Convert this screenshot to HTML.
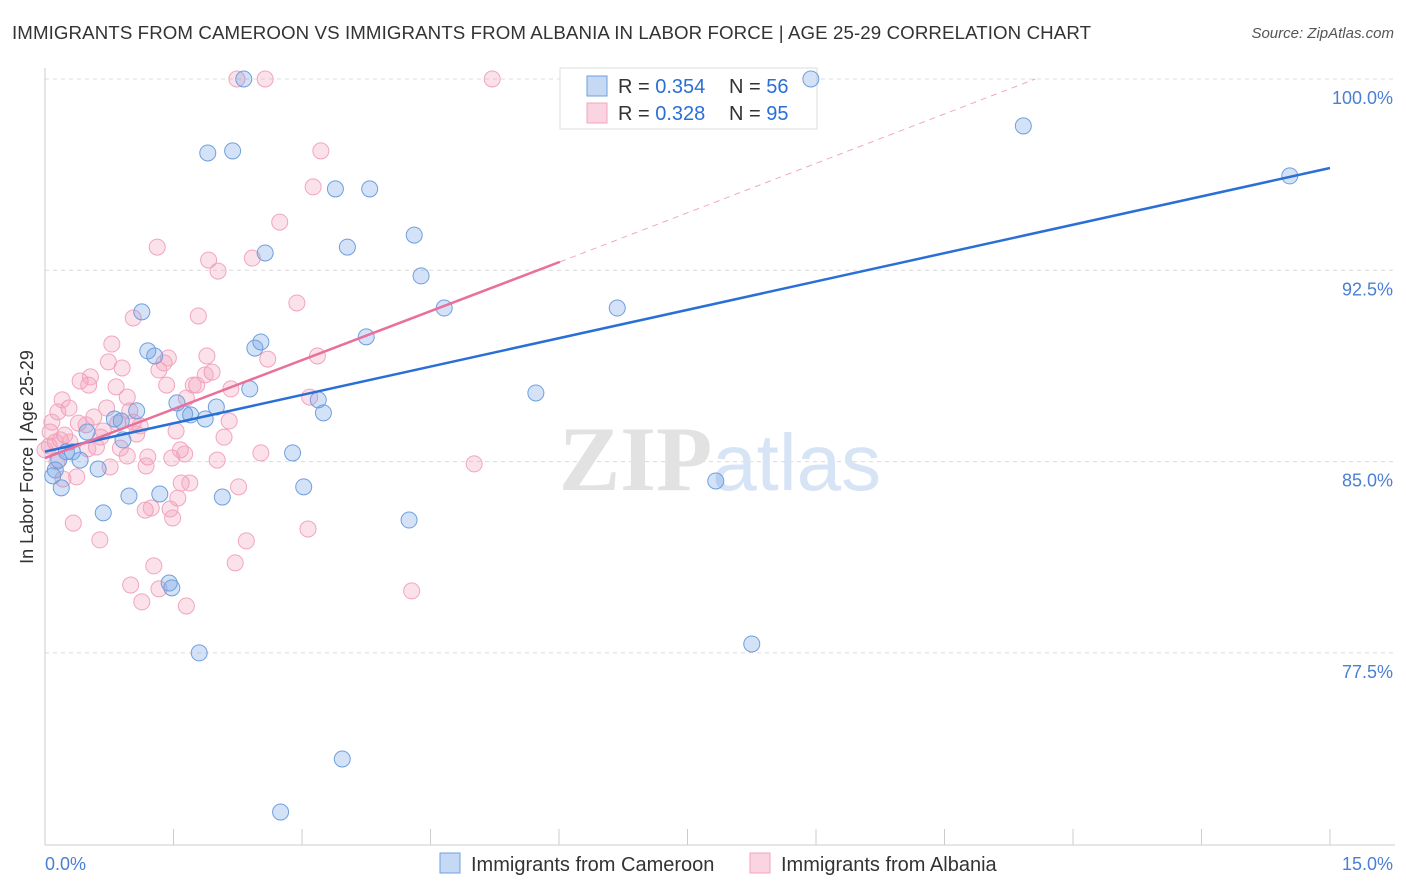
<!DOCTYPE html>
<html>
<head>
<meta charset="utf-8">
<style>
  body { margin:0; background:#fff; font-family:"Liberation Sans", sans-serif; }
  #wrap { position:relative; width:1406px; height:892px; overflow:hidden; }
  .title { position:absolute; left:12px; top:22px; font-size:18.7px; color:#333; letter-spacing:0.1px; }
  .source { position:absolute; right:12px; top:25px; font-size:15px; color:#555; font-style:italic; }
</style>
</head>
<body>
<div id="wrap">
  <div class="title">IMMIGRANTS FROM CAMEROON VS IMMIGRANTS FROM ALBANIA IN LABOR FORCE | AGE 25-29 CORRELATION CHART</div>
  <div class="source">Source: ZipAtlas.com</div>
  <svg id="chart" width="1406" height="892" style="position:absolute;left:0;top:0"></svg>
</div>
<script>
const yTicks = [100, 92.5, 85, 77.5];
const yTickLabels = ["100.0%", "92.5%", "85.0%", "77.5%"];
const xTickLabels = ["0.0%", "15.0%"];
const blueX = [2.32,8.94,11.42,14.53,1.90,2.19,3.39,3.79,2.57,3.53,4.31,4.39,4.66,6.68,1.13,3.75,2.52,2.45,1.20,1.28,2.39,5.73,1.54,3.19,3.25,2.00,1.70,1.87,1.07,0.81,0.89,0.49,0.91,0.32,0.25,0.41,0.62,0.12,0.09,0.19,2.89,3.02,7.83,2.07,0.98,1.34,0.68,4.25,1.45,1.48,1.80,8.25,3.47,2.75,1.63,0.16];
const blueY = [100,100,98.16,96.20,97.10,97.18,95.69,95.69,93.18,93.41,93.88,92.28,91.02,91.02,90.87,89.89,89.69,89.45,89.34,89.14,87.85,87.69,87.30,87.42,86.91,87.14,86.83,86.67,86.99,86.67,86.59,86.16,85.85,85.38,85.38,85.06,84.71,84.67,84.44,83.97,85.34,84.01,84.24,83.61,83.65,83.73,82.99,82.71,80.24,80.05,77.50,77.85,73.34,71.26,86.87,85.06];
const pinkX = [2.24,2.57,5.22,3.22,3.13,2.74,1.31,1.91,2.42,2.02,2.94,1.79,1.03,0.78,1.44,1.39,1.89,3.18,2.60,0.90,1.33,1.95,1.87,0.41,0.51,1.77,1.73,1.42,0.83,2.17,0.96,3.09,1.65,0.28,0.15,0.99,1.03,0.57,2.15,0.39,0.48,0.85,0.06,0.23,0.68,1.07,0.65,2.09,1.53,0.18,0.12,0.05,0.29,0.60,0.96,1.20,1.48,1.58,1.63,2.52,2.01,1.18,0.76,5.01,0.37,0.21,1.59,1.69,2.26,1.55,1.17,1.24,1.46,1.49,0.33,3.07,0.64,2.35,1.27,2.22,1.00,1.33,4.28,1.13,1.65,0.08,0.0,0.14,0.50,0.88,1.11,0.72,0.74,0.20,0.53];
const pinkY = [100,100,100,97.18,95.77,94.39,93.41,92.90,92.98,92.47,91.22,90.71,90.63,89.61,89.06,88.87,89.14,89.14,89.02,88.67,88.59,88.51,88.40,88.16,88.00,88.00,88.00,88.00,87.93,87.85,87.53,87.53,87.49,87.10,86.95,86.99,86.55,86.75,86.59,86.51,86.44,86.51,86.16,86.04,86.20,86.08,85.96,85.96,86.20,85.85,85.77,85.61,85.77,85.57,85.22,85.18,85.14,85.46,85.30,85.34,85.06,84.83,84.79,84.91,84.40,84.32,84.16,84.16,84.01,83.57,83.10,83.18,83.14,82.79,82.59,82.36,81.93,81.89,80.91,81.03,80.16,80.01,79.93,79.50,79.34,86.55,85.46,85.0,85.50,85.53,86.40,87.10,88.91,87.42,88.32];
const blueLine = [[0,85.39],[15,96.51]];
const pinkLine = [[0,85.14],[6.01,92.83]];
const pinkDash = [[6.01,92.83],[11.56,100]];

const NS = "http://www.w3.org/2000/svg";
const svg = document.getElementById("chart");
const X0 = 45, X1 = 1330, Y100 = 79, PXPER = 191.3/7.5;
function xs(v){ return X0 + (v/15)*(X1-X0); }
function ys(v){ return Y100 + (100-v)*PXPER; }
function mk(tag, attrs){ const e=document.createElementNS(NS,tag); for(const k in attrs) e.setAttribute(k,attrs[k]); svg.appendChild(e); return e; }

yTicks.forEach((t,i)=>{
  const g = mk("line",{x1:X0,x2:1395,y1:ys(t),y2:ys(t),stroke:"#dcdcdc","stroke-dasharray":"4,4","stroke-width":1});
  
  
  const lb = mk("text",{x:1393,y:ys(t)+25,"text-anchor":"end","font-size":18,fill:"#4a7fd4","font-family":"Liberation Sans, sans-serif"});
  lb.textContent = yTickLabels[i];
  
  
});
const ya = mk("line",{x1:X0,x2:X0,y1:68,y2:845,stroke:"#ccc","stroke-width":1});


const xa = mk("line",{x1:X0,x2:1395,y1:845,y2:845,stroke:"#ccc","stroke-width":1});


for(let i=0;i<=10;i++){
  const t = mk("line",{x1:xs(i*1.5),x2:xs(i*1.5),y1:829,y2:845,stroke:"#ccc","stroke-width":1});
  
  
}
[[0,"start",45],[15,"end",1393]].forEach((d,i)=>{
  const t = mk("text",{x:d[2],y:870,"text-anchor":d[1],"font-size":18,fill:"#4a7fd4","font-family":"Liberation Sans, sans-serif"});
  t.textContent = xTickLabels[i];
  
  
});
const yt = mk("text",{x:0,y:0,transform:"translate(33,457) rotate(-90)","text-anchor":"middle","font-size":18,fill:"#333","font-family":"Liberation Sans, sans-serif"});
yt.textContent = "In Labor Force | Age 25-29";


const wm = mk("text",{x:720,y:490,"text-anchor":"middle","font-size":92,"font-family":"Liberation Serif, serif"});
wm.innerHTML = '<tspan fill="#e2e2e2" font-weight="bold">ZIP</tspan><tspan fill="#d6e4f5" font-family="Liberation Sans, sans-serif" font-size="80">atlas</tspan>';



// legend box (drawn beneath points)
const lg = mk("rect",{x:560,y:68,width:257,height:61,fill:"#fff",stroke:"#ddd","stroke-width":1});


[[0,"rgba(110,160,230,0.4)","#6f9fde","0.354","56"],[1,"rgba(242,150,180,0.4)","#f2a5bd","0.328","95"]].forEach(d=>{
  const y = 76 + d[0]*27;
  const s = mk("rect",{x:587,y:y,width:20,height:20,fill:d[1],stroke:d[2],"stroke-width":1});
  
  
  const t = mk("text",{x:618,y:y+17,"font-size":20,fill:"#333","font-family":"Liberation Sans, sans-serif"});
  t.innerHTML = 'R = <tspan fill="#2a6fd6">'+d[3]+'</tspan><tspan x="729">N = </tspan><tspan fill="#2a6fd6">'+d[4]+'</tspan>';
  
  
});

pinkX.forEach((v,i)=>{
  const c = mk("circle",{cx:xs(v),cy:ys(pinkY[i]),r:8,fill:"rgba(242,150,180,0.28)",stroke:"#f2a5bd","stroke-width":1});
  
  
});
blueX.forEach((v,i)=>{
  const c = mk("circle",{cx:xs(v),cy:ys(blueY[i]),r:8,fill:"rgba(110,160,230,0.3)",stroke:"#6f9fde","stroke-width":1});
  
  
});
const bl = mk("line",{x1:xs(blueLine[0][0]),y1:ys(blueLine[0][1]),x2:xs(blueLine[1][0]),y2:ys(blueLine[1][1]),stroke:"#2a6fd6","stroke-width":2.5});


const pl = mk("line",{x1:xs(pinkLine[0][0]),y1:ys(pinkLine[0][1]),x2:xs(pinkLine[1][0]),y2:ys(pinkLine[1][1]),stroke:"#e8709a","stroke-width":2.5});


const pd = mk("line",{x1:xs(pinkDash[0][0]),y1:ys(pinkDash[0][1]),x2:xs(pinkDash[1][0]),y2:ys(pinkDash[1][1]),stroke:"#f0a8c0","stroke-width":1,"stroke-dasharray":"6,5"});



[[440,"rgba(110,160,230,0.4)","#6f9fde","Immigrants from Cameroon"],[750,"rgba(242,150,180,0.4)","#f2a5bd","Immigrants from Albania"]].forEach(d=>{
  const s = mk("rect",{x:d[0],y:853,width:20,height:20,fill:d[1],stroke:d[2],"stroke-width":1});
  
  
  const t = mk("text",{x:d[0]+31,y:871,"font-size":20,fill:"#333","font-family":"Liberation Sans, sans-serif"});
  t.textContent = d[3];
  
  
});
</script>
</body>
</html>
